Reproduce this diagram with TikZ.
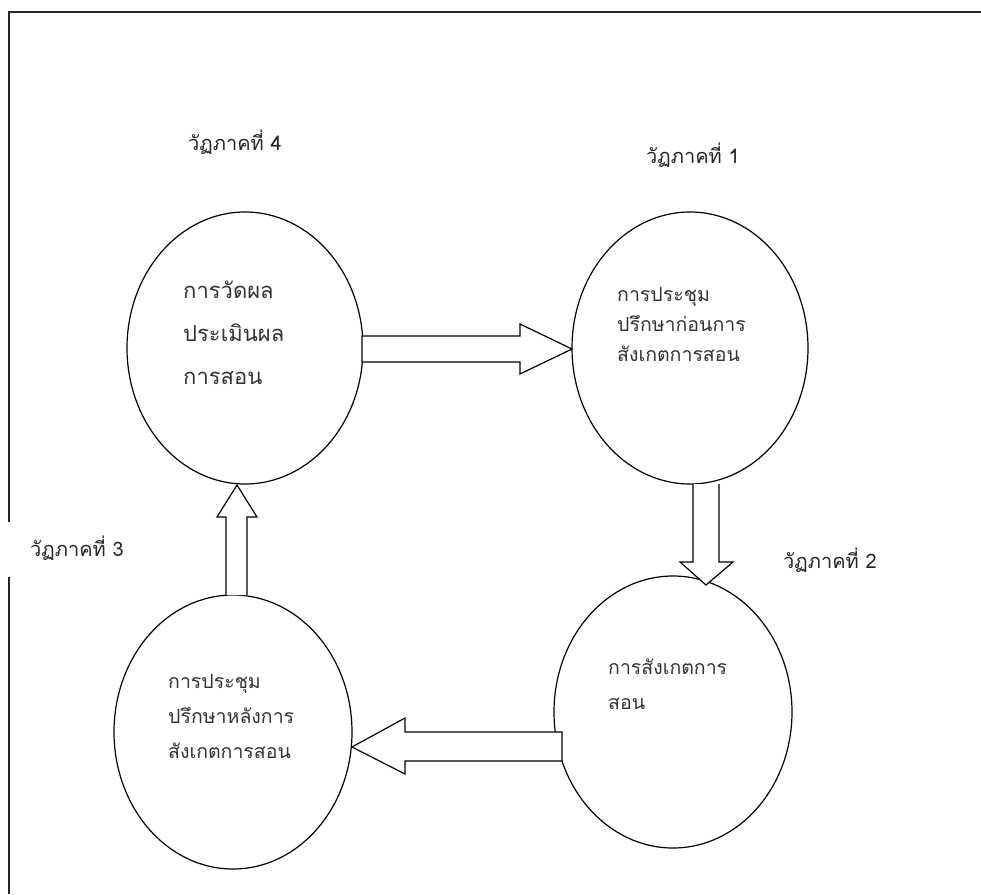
\documentclass[tikz,border=0pt]{standalone}
\usepackage{fontspec}
\newfontfamily\thaifont[Script=Thai]{Loma}
\usetikzlibrary{shapes.geometric}
\tikzset{
  frameline/.style={line width=1.6pt, black!85},
  cycline/.style={line width=1.2pt},
  holder/.style={ellipse, inner sep=0pt},
  blockarrow/.style={draw, fill=white, line width=1.2pt, line join=miter},
  phase/.style={anchor=west, inner sep=0pt, text=black!85, font=\thaifont\fontsize{20}{24}\selectfont},
  body/.style={anchor=north west, inner sep=0pt, align=left, text=black!80}
}
\begin{document}
\begin{tikzpicture}[x=1pt,y=-1pt]
\useasboundingbox (0,0) rectangle (981,894);
% frame (only top and left visible)
\draw[frameline] (9,522) -- (9,12) -- (981,12);
\draw[frameline] (9,577) -- (9,894);
% cycles
\draw[cycline] (245,348) ellipse [x radius=118, y radius=136];
\node[holder, minimum width=236pt, minimum height=272pt] (e4) at (245,348) {};
\draw[cycline] (690,348) ellipse [x radius=118, y radius=136];
\node[holder, minimum width=236pt, minimum height=272pt] (e1) at (690,348) {};
\draw[cycline] (673,712) ellipse [x radius=119, y radius=136];
\node[holder, minimum width=238pt, minimum height=272pt] (e2) at (673,712) {};
\draw[cycline] (233,732) ellipse [x radius=119, y radius=137];
\node[holder, minimum width=238pt, minimum height=274pt] (e3) at (233,732) {};
% block arrows
% e4 -> e1
\draw[blockarrow] (362,336) -- (520,336) -- (520,324) -- (572,349) -- (520,374) -- (520,362) -- (362,362) -- cycle;
% e1 -> e2
\draw[blockarrow] (693,484) -- (693,562) -- (680,562) -- (706,585) -- (733,562) -- (719,562) -- (719,484);
% e2 -> e3
\draw[blockarrow] (562,732) -- (405,732) -- (405,718) -- (352,747) -- (405,774) -- (405,761) -- (562,761) -- cycle;
% e3 -> e4
\draw[blockarrow] (226,595) -- (226,517) -- (217,517) -- (237,485) -- (257,517) -- (247,517) -- (247,595);
% labels
\node[phase] (l4) at (188,142) {วัฏภาคที่ 4};
\node[phase] (l1) at (646,155) {วัฏภาคที่ 1};
\node[phase] (l2) at (783,560) {วัฏภาคที่ 2};
\node[phase] (l3) at (30,548) {วัฏภาคที่ 3};
% texts
\node[body, font=\thaifont\fontsize{22}{43}\selectfont] (t4) at (183,281) {การวัดผล\\ประเมินผล\\การสอน};
\node[body, font=\thaifont\fontsize{19.5}{30}\selectfont] (t1) at (617,287) {การประชุม\\ปรึกษาก่อนการ\\สังเกตการสอน};
\node[body, font=\thaifont\fontsize{19.5}{35}\selectfont] (t2) at (608,659) {การสังเกตการ\\สอน};
\node[body, font=\thaifont\fontsize{19.5}{35}\selectfont] (t3) at (168,674) {การประชุม\\ปรึกษาหลังการ\\สังเกตการสอน};
\end{tikzpicture}
\end{document}
